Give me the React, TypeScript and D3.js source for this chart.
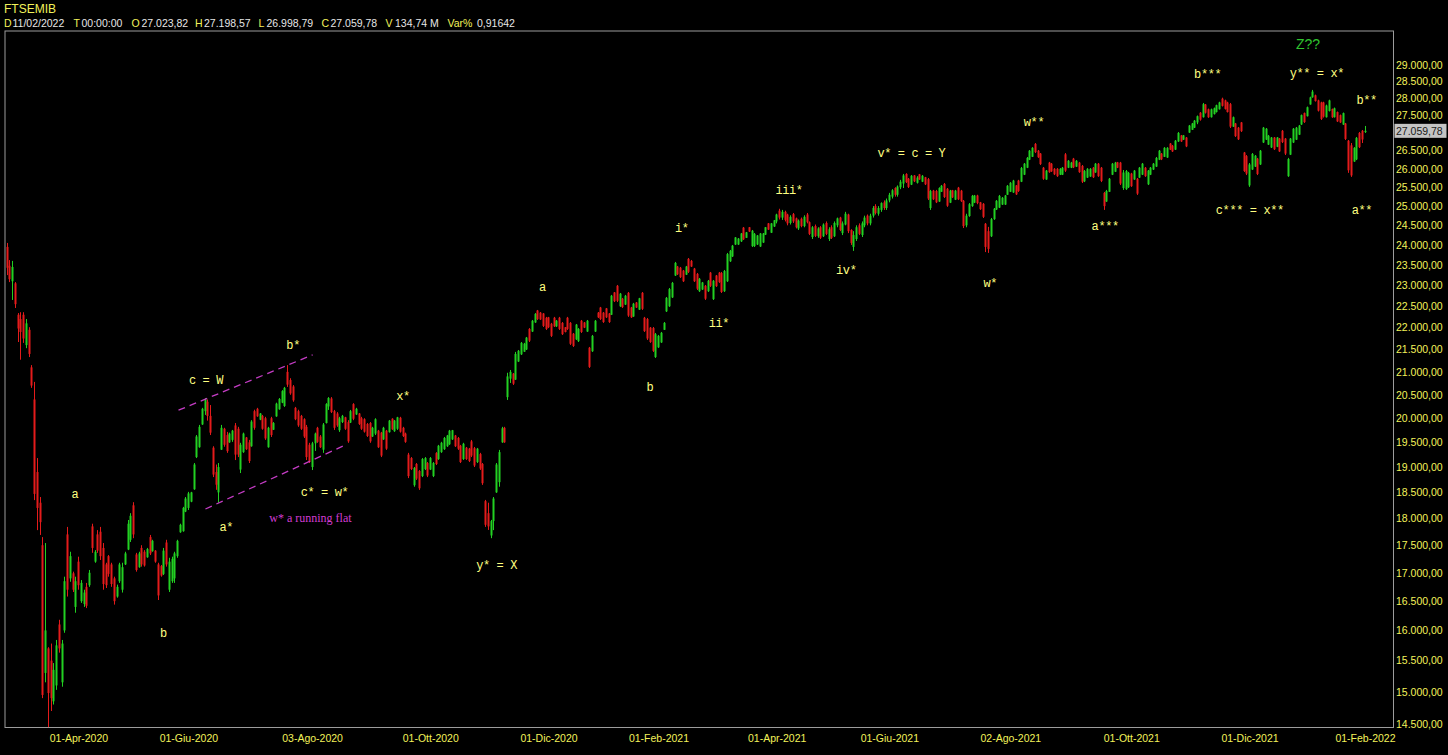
import React from "react";
import * as d3 from "d3";

// Daily bars: [open, high, low, close]
type Bar = [number, number, number, number];

const feb2020: Bar[] = [
  [23950, 24050, 23250, 23430], [23480, 23620, 23080, 23150], [23100, 23600, 22650, 23450],
  [23050, 23080, 22460, 22550], [22300, 22340, 21670, 21980],
];
const mar2020: Bar[] = [
  [22200, 22360, 21270, 21900], [22300, 22360, 21650, 21750], [21600, 22200, 21530, 22100],
  [21950, 22010, 21330, 21400], [21100, 21150, 20650, 20700], [20400, 20780, 18350, 18470],
  [18900, 19180, 17780, 18200], [18300, 18410, 17690, 17930], [17500, 17650, 14900, 14950],
  [15300, 17540, 15150, 16000], [15700, 15720, 14450, 14980], [15500, 15780, 14700, 14900],
  [14850, 15460, 14800, 15350], [15100, 15840, 15030, 15750], [16100, 16180, 15630, 15700],
  [15150, 15840, 15080, 15780], [16000, 16930, 15960, 16850], [17700, 17840, 16580, 16700],
  [16900, 17380, 16840, 17300], [16990, 17020, 16660, 16700], [16400, 16930, 16300, 16850],
  [17200, 17290, 16700, 16780],
];
const apr2020: Bar[] = [
  [16500, 16870, 16470, 16820], [16450, 16700, 16400, 16650], [16750, 16820, 16380, 16420],
  [16780, 17050, 16750, 17000], [17850, 17900, 17360, 17450], [17200, 17410, 17180, 17380],
  [17700, 17780, 17360, 17400], [17750, 17840, 17230, 17300], [17450, 17540, 16700, 16800],
  [17150, 17180, 16730, 16780], [17300, 17320, 16930, 16980], [17150, 17180, 16750, 16800],
  [16900, 16930, 16440, 16500], [16580, 16790, 16560, 16750], [16850, 17180, 16820, 17150],
  [16700, 17180, 16650, 17100], [17150, 17380, 17140, 17350], [17420, 17970, 17410, 17900],
  [17600, 18100, 17560, 18050], [18250, 18310, 17630, 17700],
];
const may2020: Bar[] = [
  [17330, 17360, 17020, 17050], [17100, 17380, 17090, 17350], [17450, 17500, 17110, 17150],
  [17380, 17410, 17110, 17130], [17280, 17450, 17270, 17430], [17650, 17690, 17320, 17350],
  [17390, 17600, 17380, 17580], [17400, 17410, 17180, 17200], [17150, 17180, 16520, 16600],
  [17120, 17140, 16930, 16950], [16980, 17450, 16960, 17400], [17550, 17600, 17110, 17150],
  [16700, 17270, 16660, 17200], [16850, 17290, 16820, 17250], [16900, 17380, 16820, 17350],
  [17300, 17600, 17270, 17580], [17740, 17900, 17730, 17880], [17760, 18220, 17750, 18200],
  [18130, 18410, 18120, 18380], [18200, 18510, 18160, 18480],
];
const jun2020: Bar[] = [
  [18320, 18510, 18310, 18500], [18560, 19080, 18550, 19050], [19200, 19650, 19180, 19620],
  [19400, 19860, 19390, 19820], [19870, 20220, 19860, 20200], [20150, 20430, 20070, 20400],
  [20350, 20400, 19950, 20050], [20050, 20280, 19650, 19700], [19390, 19420, 18800, 18850],
  [18900, 19050, 18550, 18650], [18500, 19080, 18300, 19000], [19350, 19860, 19345, 19800],
  [19780, 19800, 19410, 19450], [19650, 19715, 19285, 19320], [19500, 19700, 19490, 19680],
  [19550, 19756, 19510, 19740], [19850, 19900, 19140, 19250], [19780, 19820, 19200, 19250],
  [18950, 19490, 18880, 19450], [19300, 19700, 19285, 19680], [19600, 19610, 19345, 19360],
  [19500, 19550, 19080, 19120],
];
const jul2020: Bar[] = [
  [19420, 19960, 19410, 19930], [20150, 20180, 19760, 19800], [20200, 20220, 20030, 20040],
  [19970, 20110, 19960, 20100], [20050, 20070, 19760, 19780], [20000, 20030, 19550, 19580],
  [19400, 19820, 19390, 19800], [20000, 20030, 19610, 19650], [19760, 19920, 19756, 19900],
  [20040, 20330, 20030, 20310], [20190, 20430, 20180, 20410], [20330, 20600, 20320, 20580],
  [20260, 20670, 20240, 20650], [21000, 21150, 20670, 20720], [20820, 20860, 20500, 20530],
  [20680, 20710, 20350, 20380], [20220, 20240, 19960, 19980], [20150, 20180, 19820, 19850],
  [20050, 20070, 19756, 19780], [19980, 20000, 19590, 19620], [19820, 19860, 19140, 19200],
  [19450, 19490, 19080, 19100], [19000, 19510, 18940, 19480],
];
const aug2020: Bar[] = [
  [19480, 19700, 19325, 19680], [19800, 19820, 19490, 19510], [19620, 19650, 19385, 19400],
  [19350, 19900, 19285, 19870], [19900, 20320, 19890, 20300], [20250, 20450, 20176, 20430],
  [20420, 20450, 20110, 20130], [20150, 20176, 19756, 19800], [20100, 20130, 19820, 19850],
  [19750, 20030, 19715, 20000], [19920, 20070, 19900, 20050], [20020, 20030, 19756, 19780],
  [19920, 19960, 19490, 19520], [19910, 20176, 19900, 20150], [20300, 20320, 19960, 19990],
  [20080, 20220, 20070, 20200], [20100, 20110, 19860, 19880], [20000, 20030, 19756, 19780],
  [19980, 20000, 19700, 19720], [19880, 19900, 19610, 19630], [19900, 19920, 19490, 19520],
];
const sep2020: Bar[] = [
  [19620, 19820, 19610, 19800], [19680, 20000, 19650, 19980], [19740, 19756, 19385, 19400],
  [19700, 19715, 19200, 19230], [19560, 19820, 19550, 19800], [19740, 19756, 19345, 19370],
  [19710, 19964, 19700, 19950], [19990, 20000, 19756, 19770], [19730, 19964, 19715, 19950],
  [19780, 20030, 19756, 20020], [20010, 20030, 19700, 19720], [19800, 19820, 19610, 19630],
  [19680, 19700, 19490, 19510], [19250, 19285, 18780, 18820], [19180, 19200, 18940, 18960],
  [18640, 19000, 18610, 18980], [19060, 19080, 18744, 18770], [18920, 18940, 18548, 18580],
  [18820, 19180, 18800, 19160], [18960, 19200, 18940, 19180], [19080, 19100, 18800, 18830],
  [18950, 19200, 18940, 19180],
];
const oct2020: Bar[] = [
  [18820, 19100, 18800, 19080], [19280, 19300, 19040, 19060], [19160, 19447, 19142, 19430],
  [19300, 19510, 19285, 19490], [19360, 19610, 19345, 19590], [19420, 19652, 19405, 19640],
  [19460, 19756, 19447, 19740], [19560, 19756, 19549, 19750], [19640, 19652, 19405, 19420],
  [19590, 19610, 19345, 19370], [19430, 19447, 19080, 19100], [19160, 19490, 19142, 19470],
  [19390, 19405, 19142, 19160], [19370, 19385, 19100, 19120], [19520, 19549, 19200, 19230],
  [19380, 19405, 19000, 19030], [19100, 19385, 19080, 19370], [19260, 19285, 18942, 18970],
  [19060, 19080, 18646, 18680], [18330, 18354, 17840, 17880], [18100, 18300, 17784, 17850],
  [17680, 17972, 17630, 17950],
];
const nov2020: Bar[] = [
  [17950, 18410, 17780, 18380], [18500, 19080, 18490, 19050], [18700, 19345, 18610, 19300],
  [19500, 19820, 19490, 19790], [19800, 19820, 19490, 19500], [20450, 20980, 20389, 20900],
  [20850, 21042, 20757, 21000], [20960, 20975, 20713, 20740], [20830, 21445, 20822, 21400],
  [21230, 21489, 21220, 21470], [21390, 21670, 21377, 21650], [21450, 21650, 21445, 21630],
  [21500, 21785, 21489, 21770], [21970, 21990, 21670, 21700], [21910, 22178, 21900, 22160],
  [22120, 22340, 22110, 22320], [22400, 22413, 22178, 22200], [22350, 22365, 22178, 22190],
  [22330, 22340, 22015, 22040], [22230, 22250, 21946, 21970], [22240, 22250, 21990, 22010],
];
const dec2020: Bar[] = [
  [22090, 22110, 21785, 21810], [22230, 22250, 22015, 22030], [22030, 22178, 22015, 22160],
  [22230, 22250, 21946, 21970], [22110, 22130, 21831, 21850], [22010, 22015, 21890, 21900],
  [22230, 22250, 21946, 21970], [22110, 22130, 21603, 21630], [21860, 21877, 21558, 21580],
  [21730, 22085, 21717, 22070], [21690, 21990, 21670, 21970], [22160, 22178, 21877, 21900],
  [22120, 22130, 21990, 22000], [21910, 22178, 21900, 22160], [21540, 21558, 21087, 21110],
  [21460, 21831, 21445, 21810], [21910, 22178, 21900, 22160], [22350, 22365, 22225, 22240],
  [22470, 22485, 22178, 22200], [22350, 22365, 22110, 22130],
];
const jan2021: Bar[] = [
  [22450, 22460, 22225, 22240], [22330, 22340, 22110, 22130], [22300, 22770, 22295, 22750],
  [22830, 22840, 22600, 22620], [22990, 23010, 22600, 22630], [22500, 22817, 22485, 22800],
  [22680, 22698, 22460, 22480], [22540, 22770, 22531, 22750], [22820, 22840, 22250, 22280],
  [22470, 22485, 22225, 22240], [22260, 22580, 22250, 22560], [22590, 22600, 22460, 22470],
  [22420, 22700, 22413, 22690], [22820, 22840, 22413, 22440], [22230, 22250, 21900, 21920],
  [22200, 22225, 21717, 21750], [22000, 22015, 21650, 21670], [21990, 22015, 21445, 21470],
  [21330, 21877, 21310, 21850], [21550, 21831, 21535, 21810],
];
const feb2021: Bar[] = [
  [21660, 21900, 21650, 21880], [21950, 22130, 21946, 22110], [22380, 22720, 22365, 22700],
  [22500, 22937, 22485, 22910], [22710, 23083, 22698, 23060], [23240, 23574, 23228, 23550],
  [23460, 23475, 23253, 23270], [23430, 23450, 23180, 23200], [23360, 23376, 23083, 23100],
  [23260, 23475, 23253, 23460], [23650, 23672, 23302, 23330], [23600, 23623, 23450, 23460],
  [23410, 23426, 23083, 23100], [23280, 23302, 22889, 22920], [22860, 23180, 22841, 23160],
  [22900, 23083, 22889, 23070], [22990, 23010, 22650, 22680], [22860, 23131, 22841, 23110],
  [23310, 23327, 22962, 22990], [22670, 23131, 22650, 23110],
];
const mar2021: Bar[] = [
  [23240, 23253, 22962, 22980], [23310, 23327, 23059, 23080], [23300, 23327, 22817, 22840],
  [22860, 23376, 22841, 23350], [23100, 23798, 23083, 23770], [23590, 23873, 23574, 23850],
  [23710, 23999, 23698, 23980], [24010, 24200, 23999, 24190], [24010, 24175, 23999, 24160],
  [24090, 24303, 24074, 24290], [24440, 24457, 24125, 24140], [24180, 24329, 24176, 24320],
  [24450, 24457, 24329, 24340], [23970, 24380, 23948, 24360], [23970, 24303, 23948, 24280],
  [24010, 24252, 23999, 24240], [23960, 24303, 23948, 24290], [24060, 24303, 24049, 24290],
  [24260, 24457, 24252, 24450], [24550, 24560, 24380, 24390], [24310, 24560, 24303, 24550],
  [24470, 24638, 24457, 24630], [24600, 24800, 24550, 24780],
];
const apr2021: Bar[] = [
  [24880, 24930, 24650, 24700], [24700, 24900, 24640, 24850], [24850, 24880, 24600, 24640],
  [24780, 24800, 24500, 24550], [24560, 24760, 24520, 24720], [24790, 24820, 24560, 24600],
  [24680, 24700, 24420, 24450], [24420, 24650, 24380, 24620], [24670, 24700, 24450, 24480],
  [24480, 24760, 24450, 24720], [24780, 24820, 24550, 24580], [24580, 24600, 24250, 24280],
  [24200, 24480, 24150, 24450], [24480, 24520, 24200, 24230], [24220, 24450, 24180, 24420],
  [24450, 24480, 24150, 24180], [24220, 24550, 24200, 24520], [24560, 24600, 24250, 24280],
  [24150, 24450, 24100, 24400], [24450, 24500, 24150, 24180],
];
const may2021: Bar[] = [
  [24220, 24600, 24200, 24560], [24500, 24700, 24450, 24680], [24700, 24720, 24350, 24380],
  [24300, 24600, 24250, 24550], [24520, 24850, 24500, 24800], [24780, 24800, 24300, 24350],
  [24380, 24400, 24000, 24050], [23950, 24350, 23850, 24250], [24150, 24500, 24100, 24450],
  [24500, 24550, 24250, 24280], [24250, 24600, 24200, 24550], [24500, 24750, 24450, 24700],
  [24750, 24780, 24500, 24550], [24550, 24800, 24500, 24750], [24750, 25000, 24700, 24950],
  [25000, 25050, 24780, 24820], [24800, 25000, 24750, 24950], [24900, 25100, 24850, 25080],
  [25100, 25150, 24900, 24950], [24950, 25200, 24900, 25150], [25150, 25350, 25100, 25300],
];
const jun2021: Bar[] = [
  [25250, 25450, 25200, 25420], [25480, 25500, 25250, 25300], [25300, 25550, 25250, 25520],
  [25500, 25700, 25450, 25650], [25600, 25860, 25480, 25820], [25860, 25880, 25615, 25640],
  [25730, 25750, 25480, 25510], [25570, 25830, 25560, 25810], [25820, 25830, 25640, 25660],
  [25620, 25800, 25600, 25760], [25850, 25860, 25700, 25710], [25650, 25830, 25640, 25810],
  [25770, 25780, 25560, 25580], [25720, 25750, 25160, 25200], [24950, 25430, 24900, 25400],
  [25410, 25430, 25160, 25180], [25400, 25430, 25080, 25100], [25120, 25500, 25110, 25480],
  [25380, 25560, 25375, 25540], [25590, 25615, 25215, 25240], [25460, 25480, 24980, 25010],
  [25090, 25430, 25080, 25410],
];
const jul2021: Bar[] = [
  [25420, 25430, 25215, 25230], [25170, 25430, 25160, 25410], [25490, 25510, 25160, 25180],
  [25410, 25430, 25110, 25130], [25140, 25160, 24430, 24480], [24500, 24800, 24450, 24750],
  [24740, 25080, 24720, 25050], [25000, 25295, 24980, 25270], [25090, 25295, 25080, 25280],
  [25280, 25300, 25050, 25080], [25100, 25110, 24900, 24920], [25060, 25080, 24690, 24720],
  [24540, 24560, 23820, 23950], [24350, 24460, 23800, 23900], [24220, 24690, 24200, 24660],
  [24660, 24950, 24640, 24930], [24910, 25160, 24900, 25140], [24960, 25295, 24950, 25270],
  [25040, 25240, 25030, 25220], [25040, 25295, 25030, 25280], [25300, 25560, 25295, 25540],
  [25380, 25640, 25375, 25620],
];
const aug2021: Bar[] = [
  [25360, 25700, 25350, 25680], [25550, 25560, 25295, 25310], [25680, 25700, 25375, 25400],
  [25650, 26050, 25640, 26020], [25840, 26160, 25830, 26140], [26030, 26325, 26020, 26300],
  [26250, 26520, 26240, 26500], [26330, 26600, 26325, 26580], [26690, 26715, 26435, 26460],
  [26500, 26520, 26300, 26320], [26420, 26435, 26105, 26130], [26030, 26050, 25700, 25730],
  [25710, 25968, 25700, 25950], [26170, 26190, 25890, 25910], [26140, 26160, 25915, 25930],
  [26000, 26020, 25830, 25850], [26000, 26020, 25780, 25800], [25840, 26020, 25830, 26000],
  [25840, 26050, 25830, 26030], [26400, 26435, 25915, 25950], [26030, 26240, 26020, 26220],
  [26030, 26190, 26020, 26170],
];
const sep2021: Bar[] = [
  [26280, 26300, 26020, 26040], [26060, 26240, 26050, 26220], [26170, 26190, 25890, 25910],
  [26080, 26105, 25615, 25650], [25660, 25968, 25640, 25940], [25760, 26020, 25750, 26000],
  [25790, 26020, 25780, 26000], [26030, 26050, 25750, 25770], [25900, 26160, 25890, 26140],
  [26140, 26160, 25780, 25800], [26030, 26050, 25640, 25670], [25350, 25375, 24900, 25000],
  [25120, 25430, 25110, 25400], [25380, 25750, 25375, 25730], [25840, 26160, 25830, 26140],
  [25920, 26190, 25915, 26170], [26180, 26190, 26020, 26030], [26170, 26190, 25560, 25600],
  [25480, 25968, 25430, 25900], [25450, 25968, 25430, 25940], [25500, 25915, 25480, 25890],
  [25870, 25890, 25510, 25530],
];
const oct2021: Bar[] = [
  [25710, 25968, 25700, 25950], [25730, 25750, 25295, 25330], [25760, 26050, 25750, 26030],
  [25840, 26160, 25830, 26140], [26030, 26050, 25780, 25800], [25580, 25968, 25560, 25950],
  [25840, 26050, 25830, 26030], [25980, 26160, 25968, 26140], [26060, 26325, 26050, 26300],
  [26250, 26520, 26240, 26500], [26420, 26435, 26240, 26260], [26330, 26600, 26325, 26580],
  [26310, 26600, 26300, 26580], [26700, 26715, 26520, 26530], [26640, 26660, 26465, 26480],
  [26530, 26800, 26520, 26780], [26760, 27025, 26745, 27000], [26930, 26942, 26745, 26760],
  [26810, 26942, 26800, 26930], [26870, 26885, 26600, 26620], [27010, 27227, 27000, 27210],
];
const nov2021: Bar[] = [
  [27090, 27285, 27084, 27270], [27150, 27370, 27140, 27350], [27300, 27500, 27250, 27480],
  [27580, 27600, 27350, 27380], [27450, 27865, 27440, 27830], [27820, 27835, 27556, 27580],
  [27680, 27700, 27430, 27450], [27450, 27700, 27440, 27680], [27540, 27730, 27528, 27710],
  [27600, 27815, 27586, 27800], [27680, 27900, 27672, 27880], [27990, 28020, 27760, 27780],
  [27940, 27961, 27672, 27690], [27880, 27900, 27586, 27600], [27830, 27865, 27140, 27180],
  [27180, 27470, 27170, 27450], [27270, 27285, 26885, 26910], [27150, 27170, 26800, 26820],
  [27300, 27313, 27027, 27050], [26450, 26465, 25915, 25940], [26350, 26380, 25830, 25870],
  [25550, 26160, 25510, 26120],
];
const dec2021: Bar[] = [
  [25980, 26435, 25968, 26410], [26060, 26380, 26050, 26360], [26280, 26300, 25830, 25860],
  [26120, 26520, 26105, 26500], [26730, 27170, 26715, 27150], [26810, 27140, 26800, 27120],
  [26670, 26942, 26660, 26920], [26590, 26885, 26575, 26870], [26870, 26885, 26520, 26540],
  [26610, 26885, 26600, 26870], [26840, 26857, 26465, 26480], [27060, 27084, 26715, 26740],
  [26840, 26857, 26380, 26420], [25800, 26300, 25780, 26270], [26390, 26857, 26380, 26840],
  [26730, 27140, 26715, 27120], [26810, 27170, 26800, 27150], [26950, 27227, 26942, 27210],
  [27240, 27528, 27227, 27510], [27570, 27586, 27285, 27310], [27480, 27760, 27470, 27740],
];
const jan2022: Bar[] = [
  [27820, 28050, 27815, 28030], [28030, 28250, 28020, 28200], [28090, 28110, 27905, 27920],
  [27940, 27961, 27615, 27640], [27880, 27900, 27370, 27400], [27880, 27900, 27440, 27470],
  [27450, 27815, 27440, 27790], [27630, 27961, 27615, 27940], [27690, 27700, 27430, 27450],
  [27450, 27730, 27440, 27710], [27600, 27615, 27313, 27330], [27510, 27528, 27285, 27300],
  [27240, 27586, 27227, 27570], [27270, 27285, 26800, 26830], [26780, 26800, 25890, 25960],
  [26650, 26715, 25780, 25820], [26200, 26600, 26190, 26580], [26260, 26885, 26240, 26860],
  [27000, 27027, 26575, 26600], [27060, 27084, 26715, 26814], [27023.82, 27198.57, 26998.79, 27059.78],
];

const bars: Bar[] = [
  ...feb2020, ...mar2020, ...apr2020, ...may2020, ...jun2020, ...jul2020, ...aug2020,
  ...sep2020, ...oct2020, ...nov2020, ...dec2020, ...jan2021, ...feb2021, ...mar2021,
  ...apr2021, ...may2021, ...jun2021, ...jul2021, ...aug2021, ...sep2021, ...oct2021,
  ...nov2021, ...dec2021, ...jan2022,
];

// Session calendar
const firstSession = "2020-02-24";
const closedDays = [
  "2020-04-10", "2020-04-13", "2020-05-01", "2020-12-24", "2020-12-25", "2020-12-31",
  "2021-01-01", "2021-04-02", "2021-04-05", "2021-12-24", "2021-12-31",
];

// Axis labels
const priceTicks = d3.range(14500, 29001, 500);
const dateTickLabels = [
  "01-Apr-2020", "01-Giu-2020", "03-Ago-2020", "01-Ott-2020", "01-Dic-2020", "01-Feb-2021",
  "01-Apr-2021", "01-Giu-2021", "02-Ago-2021", "01-Ott-2021", "01-Dic-2021", "01-Feb-2022",
];
const monthAbbr = ["Gen", "Feb", "Mar", "Apr", "Mag", "Giu", "Lug", "Ago", "Set", "Ott", "Nov", "Dic"];

// Elliott wave counts: position given as session index and price level
const waveLabels: { text: string; i: number; price: number }[] = [
  { text: "a", i: 24.8, price: 18470 },
  { text: "b", i: 57, price: 15960 },
  { text: "c = W", i: 72.5, price: 20830 },
  { text: "b*", i: 104.2, price: 21600 },
  { text: "a*", i: 79.9, price: 17850 },
  { text: "c* = w*", i: 115.6, price: 18520 },
  { text: "x*", i: 144.2, price: 20480 },
  { text: "y* = X", i: 178.2, price: 17140 },
  { text: "a", i: 194.9, price: 22960 },
  { text: "b", i: 234, price: 20670 },
  { text: "i*", i: 245.6, price: 24440 },
  { text: "ii*", i: 259.1, price: 22110 },
  { text: "iii*", i: 284.6, price: 25430 },
  { text: "iv*", i: 305.4, price: 23380 },
  { text: "v* = c = Y", i: 329.1, price: 26430 },
  { text: "w*", i: 357.8, price: 23060 },
  { text: "w**", i: 373.7, price: 27310 },
  { text: "a***", i: 399.6, price: 24490 },
  { text: "b***", i: 436.9, price: 28720 },
  { text: "c*** = x**", i: 452.2, price: 24900 },
  { text: "y** = x*", i: 476.6, price: 28760 },
  { text: "b**", i: 494.7, price: 27960 },
  { text: "a**", i: 493, price: 24900 },
];
const altCount = { text: "Z??", i: 473.4, price: 29650 };
const flatNote = { text: "w* a running flat", i: 110.5, price: 18020 };

// Running-flat channel
const channelUpper = [
  { i: 62.5, price: 20170 },
  { i: 111.3, price: 21380 },
];
const channelLower = [
  { i: 72.3, price: 18180 },
  { i: 122.6, price: 19430 },
];

const header = {
  symbol: "FTSEMIB",
  fields: [
    { k: "D", v: "11/02/2022", kx: 4, vx: 12.5 },
    { k: "T", v: "00:00:00", kx: 73.5, vx: 81.5 },
    { k: "O", v: "27.023,82", kx: 131.5, vx: 141.5 },
    { k: "H", v: "27.198,57", kx: 195, vx: 204 },
    { k: "L", v: "26.998,79", kx: 258.5, vx: 266.5 },
    { k: "C", v: "27.059,78", kx: 321.5, vx: 330.5 },
    { k: "V", v: "134,74 M", kx: 385.5, vx: 395 },
    { k: "Var%", v: "0,91642", kx: 447.5, vx: 477 },
  ],
};

const itLocale = d3.formatLocale({ decimal: ",", thousands: ".", grouping: [3], currency: ["€", ""] });
const fmtPrice = itLocale.format(",.2f");

const W = 1448;
const H = 755;
const frame = { left: 5, top: 31, right: 1393.5, bottom: 727.5 };

const UP = "#22d022";
const DOWN = "#e41b1b";
const LABEL = "#f2f25a";
const WAVE = "#ffff80";
const SANS = "'Liberation Sans', Arial, sans-serif";

function buildSessions(start: string, count: number, closed: string[]): string[] {
  const shut = new Set(closed);
  const out: string[] = [];
  const d = new Date(start + "T00:00:00Z");
  while (out.length < count) {
    const wd = d.getUTCDay();
    const key = d.toISOString().slice(0, 10);
    if (wd !== 0 && wd !== 6 && !shut.has(key)) out.push(key);
    d.setUTCDate(d.getUTCDate() + 1);
  }
  return out;
}

function labelToKey(label: string): string {
  const [dd, mon, yyyy] = label.split("-");
  const m = monthAbbr.indexOf(mon) + 1;
  return `${yyyy}-${String(m).padStart(2, "0")}-${dd}`;
}

export default function App() {
  const n = bars.length;
  const sessions = buildSessions(firstSession, n + 15, closedDays);
  const sessionIndex = new Map(sessions.map((k, i) => [k, i] as [string, number]));

  const x = d3.scaleLinear().domain([0, n - 1]).range([6.7, 1364.7]);
  const y = d3.scaleLog().domain([14500, 29000]).range([724, 65]);

  const last = bars[n - 1];
  const lastY = y(last[3]);

  const dateTicks = dateTickLabels
    .map((label) => ({ label, i: sessionIndex.get(labelToKey(label)) }))
    .filter((t) => t.i !== undefined) as { label: string; i: number }[];

  const line = d3
    .line<{ i: number; price: number }>()
    .x((d) => x(d.i))
    .y((d) => y(d.price));

  return (
    <div style={{ position: "fixed", left: 0, top: 0, width: W, height: H, background: "#000", overflow: "hidden" }}>
      <svg width={W} height={H} style={{ display: "block", background: "#000" }}>
        <defs>
          <clipPath id="plot-clip">
            <rect x={frame.left} y={frame.top} width={frame.right - frame.left} height={frame.bottom - frame.top} />
          </clipPath>
        </defs>

        {/* header */}
        <text x={4} y={13} fill={LABEL} fontFamily={SANS} fontSize={12}>
          {header.symbol}
        </text>
        {header.fields.map((f) => (
          <g key={f.k} fontFamily={SANS} fontSize={10.5}>
            <text x={f.kx} y={26.5} fill={LABEL}>
              {f.k}
            </text>
            <text x={f.vx} y={26.5} fill="#e6e6e6">
              {f.v}
            </text>
          </g>
        ))}

        {/* plot frame */}
        <rect
          x={frame.left}
          y={frame.top}
          width={frame.right - frame.left}
          height={frame.bottom - frame.top}
          fill="none"
          stroke="#9c9c9c"
          strokeWidth={1}
        />

        {/* candles */}
        <g clipPath="url(#plot-clip)">
          {bars.map((b, i) => {
            const [o, h, l, c] = b;
            const cx = Math.round(x(i));
            const color = c >= o ? UP : DOWN;
            const top = y(Math.max(o, c));
            const bot = y(Math.min(o, c));
            return (
              <g key={i}>
                <line x1={cx + 0.5} x2={cx + 0.5} y1={y(h)} y2={y(l)} stroke={color} strokeWidth={1} />
                <rect x={cx - 0.5} y={top} width={2} height={Math.max(1, bot - top)} fill={color} />
              </g>
            );
          })}
        </g>

        {/* running flat channel */}
        <g stroke="#c43cc4" strokeWidth={1.3} strokeDasharray="7 5" fill="none">
          <path d={line(channelUpper) || ""} />
          <path d={line(channelLower) || ""} />
        </g>

        {/* wave labels */}
        <g fontFamily="'Liberation Mono', 'Courier New', monospace" fontSize={12} fill={WAVE} textAnchor="middle" letterSpacing={-0.4}>
          {waveLabels.map((w, k) => (
            <text key={k} x={x(w.i)} y={y(w.price)} dy="0.35em">
              {w.text}
            </text>
          ))}
        </g>
        <text
          x={x(flatNote.i)}
          y={y(flatNote.price)}
          dy="0.35em"
          textAnchor="middle"
          fontFamily="'Liberation Serif', 'Times New Roman', serif"
          fontSize={12}
          fill="#d23cd2"
        >
          {flatNote.text}
        </text>
        <text
          x={x(altCount.i)}
          y={y(altCount.price)}
          dy="0.35em"
          textAnchor="middle"
          fontFamily={SANS}
          fontSize={14}
          fill="#2fc42f"
        >
          {altCount.text}
        </text>

        {/* price axis */}
        <g fontFamily={SANS} fontSize={10.5} fill={LABEL}>
          {priceTicks
            .filter((t) => Math.abs(y(t) - lastY) > 10)
            .map((t) => (
              <text key={t} x={1396} y={y(t)} dy="0.36em">
                {fmtPrice(t)}
              </text>
            ))}
        </g>
        <rect x={1394.5} y={lastY - 7} width={52} height={14} fill="#c4c4c4" />
        <text x={1396} y={lastY} dy="0.36em" fontFamily={SANS} fontSize={10.5} fill="#1a1a1a">
          {fmtPrice(last[3])}
        </text>

        {/* date axis */}
        <g fontFamily={SANS} fontSize={10.5} fill={LABEL} textAnchor="middle">
          {dateTicks.map((t) => (
            <text key={t.label} x={x(t.i) - 2} y={742}>
              {t.label}
            </text>
          ))}
        </g>
      </svg>
    </div>
  );
}
